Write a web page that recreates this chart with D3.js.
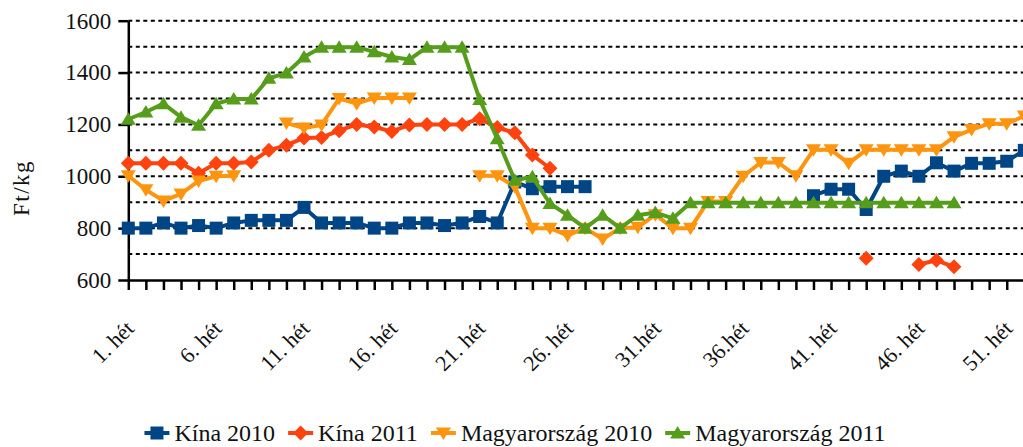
<!DOCTYPE html>
<html>
<head>
    <meta charset="UTF-8">
    <title>Kína és Magyarország Ft/kg</title>
    <style>
        body { margin: 0; background: white; }
        svg { display: block; }
        text { font-family: "Liberation Serif", "Times New Roman", serif; fill: #111; }
    </style>
</head>
<body>
<svg></svg>
<script src="https://d3js.org/d3.v7.min.js"></script>
<script>

let width = 1023, height = 447;

// heti árak (Ft/kg), null = nincs adat
let kina2010 = [800, 800, 820, 800, 810, 800, 820, 830, 830, 830,
    880, 820, 820, 820, 800, 800, 820, 820, 810, 820,
    845, 820, 978, 952, 960, 960, 960, null, null, null,
    null, null, null, null, null, null, null, null, null, 925,
    950, 950, 872, 1000, 1020, 1000, 1052, 1020, 1050, 1050,
    1058, 1100];

let kina2011 = [1050, 1050, 1050, 1050, 1012, 1050, 1050, 1055, 1100, 1120,
    1148, 1150, 1176, 1200, 1190, 1173, 1198, 1200, 1200, 1200,
    1222, 1188, 1168, 1082, 1031, null, null, null, null, null,
    null, null, null, null, null, null, null, null, null, null,
    null, null, 684, null, null, 660, 676, 651, null, null,
    null, null];

let mag2010 = [1002, 948, 905, 932, 982, 1000, 1002, null, null, 1205,
    1186, 1198, 1300, 1280, 1302, 1302, 1302, null, null, null,
    1002, 1002, 960, 800, 800, 772, 800, 758, 800, 803,
    852, 800, 800, 903, 903, 1000, 1053, 1053, 1002, 1102,
    1102, 1050, 1102, 1102, 1102, 1102, 1102, 1152, 1180, 1203,
    1203, 1232];

let mag2011 = [1220, 1248, 1280, 1228, 1197, 1280, 1298, 1298, 1378, 1398,
    1460, 1498, 1498, 1498, 1480, 1460, 1450, 1498, 1498, 1498,
    1296, 1145, 985, 998, 895, 850, 800, 850, 800, 850,
    860, 838, 898, 898, 898, 898, 898, 898, 898, 898,
    898, 898, 898, 898, 898, 898, 898, 898, null, null,
    null, null];

let seriesNames = ["Kína 2010", "Kína 2011", "Magyarország 2010", "Magyarország 2011"];
let seriesColors = ["#004586", "#ff420e", "#ff950e", "#579d1c"];
let seriesShapes = ["square", "diamond", "down", "up"];

let weekTicks = [1, 6, 11, 16, 21, 26, 31, 36, 41, 46, 51];
let weekLabels = ["1. hét", "6. hét", "11. hét", "16. hét", "21. hét", "26. hét",
    "31.hét", "36.hét", "41. hét", "46. hét", "51. hét"];
let yTicks = [600, 800, 1000, 1200, 1400, 1600];
let yGrid = [700, 800, 900, 1000, 1100, 1200, 1300, 1400, 1500, 1600];

let allSeries = [kina2010, kina2011, mag2010, mag2011];
let weeks = kina2010.map((d, i) => i + 1);

let svg = d3.select("svg")
    .attr("width", width)
    .attr("height", height);

let x = d3.scaleLinear().domain([1, 52]).range([128.3, 1024.3]);
let y = d3.scaleLinear().domain([600, 1600]).range([280, 20.7]);

// marker shapes
let shapePath = {
    square: "M-6.5,-6.5h13v13h-13Z",
    diamond: "M0,-7.5L7.5,0L0,7.5L-7.5,0Z",
    down: "M-7.5,-5.5L7.5,-5.5L0,7Z",
    up: "M0,-7L7.5,5.5L-7.5,5.5Z"
};

// dotted gridlines
svg.append("g")
    .selectAll("line")
    .data(yGrid)
    .enter()
    .append("line")
    .attr("x1", x(1))
    .attr("x2", width)
    .attr("y1", d => y(d))
    .attr("y2", d => y(d))
    .attr("stroke", "black")
    .attr("stroke-width", 2)
    .attr("stroke-dasharray", "4,3.5");

// y axis
let yAxis = svg.append("g")
    .attr("transform", "translate(" + x(1) + ",0)")
    .call(d3.axisLeft(y).tickValues(yTicks).tickFormat(d3.format("d"))
        .tickSize(10).tickSizeOuter(0).tickPadding(7));
yAxis.attr("font-family", null).attr("font-size", null);
yAxis.select(".domain").attr("stroke", "black").attr("stroke-width", 2.5);
yAxis.selectAll(".tick line").attr("stroke", "black").attr("stroke-width", 2.5);
yAxis.selectAll(".tick text")
    .style("font-size", "23px")
    .attr("fill", "#111");

// x axis
let xAxis = svg.append("g")
    .attr("transform", "translate(0," + y(600) + ")")
    .call(d3.axisBottom(x).tickValues(weeks).tickSize(10).tickSizeOuter(0).tickFormat(""));
xAxis.select(".domain").attr("stroke", "black").attr("stroke-width", 2.5);
xAxis.selectAll(".tick line").attr("stroke", "black").attr("stroke-width", 2.5);

svg.append("g")
    .selectAll("text")
    .data(weekTicks)
    .enter()
    .append("text")
    .attr("transform", d => "translate(" + (x(d) + 7) + ",330) rotate(-45)")
    .attr("text-anchor", "end")
    .style("font-size", "22px")
    .text((d, i) => weekLabels[i]);

// y title
svg.append("text")
    .attr("transform", "translate(29,188) rotate(-90)")
    .attr("text-anchor", "middle")
    .style("font-size", "23px")
    .style("letter-spacing", "1.5px")
    .text("Ft/kg");

// series
let line = d3.line()
    .defined(d => d != null)
    .x((d, i) => x(i + 1))
    .y(d => y(d));

allSeries.forEach((data, s) => {
    let g = svg.append("g");
    g.append("path")
        .attr("d", line(data))
        .attr("fill", "none")
        .attr("stroke", seriesColors[s])
        .attr("stroke-width", 4)
        .attr("stroke-linejoin", "round");
    g.selectAll("path.marker")
        .data(data.map((v, i) => ({ v: v, w: i + 1 })).filter(d => d.v != null))
        .enter()
        .append("path")
        .attr("class", "marker")
        .attr("d", shapePath[seriesShapes[s]])
        .attr("transform", d => "translate(" + x(d.w) + "," + y(d.v) + ")")
        .attr("fill", seriesColors[s]);
});

// legend
let legend = svg.append("g");
let lx = 0;
seriesNames.forEach((name, s) => {
    let item = legend.append("g").attr("transform", "translate(" + lx + ",0)");
    item.append("line")
        .attr("x1", 0).attr("x2", 25)
        .attr("y1", 0).attr("y2", 0)
        .attr("stroke", seriesColors[s])
        .attr("stroke-width", 4);
    item.append("path")
        .attr("d", shapePath[seriesShapes[s]])
        .attr("transform", "translate(12.5,0)")
        .attr("fill", seriesColors[s]);
    let t = item.append("text")
        .attr("x", 30)
        .attr("y", 8)
        .style("font-size", "24px")
        .text(name);
    lx += 30 + t.node().getComputedTextLength() + 13;
});
legend.attr("transform", "translate(" + (515 - (lx - 13) / 2) + ",433)");

</script>
</body>
</html>
